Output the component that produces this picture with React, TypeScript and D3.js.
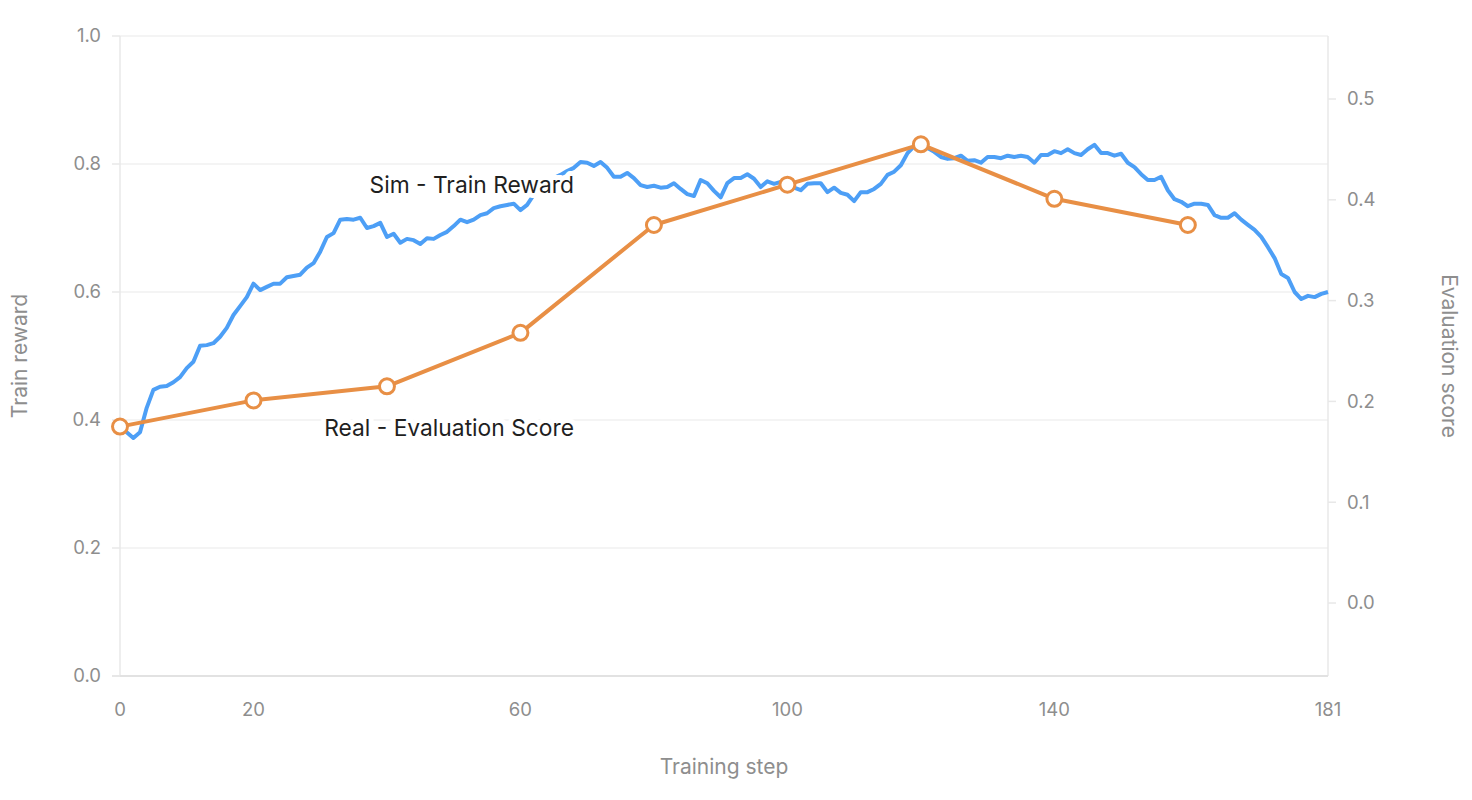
import React from 'react';
import * as d3 from 'd3';

// Sim train reward, one value per training step 0..181
const trainReward = [
  0.391, 0.381, 0.372, 0.381, 0.419, 0.447, 0.452, 0.453, 0.459, 0.467,
  0.481, 0.491, 0.516, 0.517, 0.520, 0.530, 0.544, 0.564, 0.578, 0.592,
  0.613, 0.603, 0.608, 0.613, 0.613, 0.623, 0.625, 0.627, 0.638, 0.645,
  0.663, 0.686, 0.692, 0.713, 0.714, 0.713, 0.716, 0.700, 0.703, 0.708,
  0.686, 0.691, 0.677, 0.683, 0.681, 0.675, 0.684, 0.683, 0.689, 0.694,
  0.703, 0.713, 0.709, 0.713, 0.720, 0.723, 0.731, 0.734, 0.736, 0.738,
  0.728, 0.736, 0.752, 0.763, 0.770, 0.778, 0.783, 0.789, 0.794, 0.803,
  0.802, 0.797, 0.803, 0.794, 0.780, 0.780, 0.786, 0.778, 0.767, 0.764,
  0.766, 0.763, 0.764, 0.770, 0.761, 0.753, 0.750, 0.775, 0.770, 0.758,
  0.748, 0.770, 0.778, 0.778, 0.784, 0.777, 0.764, 0.773, 0.769, 0.772,
  0.769, 0.763, 0.759, 0.769, 0.770, 0.770, 0.756, 0.763, 0.755, 0.752,
  0.742, 0.756, 0.756, 0.761, 0.769, 0.783, 0.788, 0.798, 0.817, 0.828,
  0.833, 0.825, 0.819, 0.811, 0.808, 0.809, 0.813, 0.805, 0.806, 0.802,
  0.811, 0.811, 0.809, 0.813, 0.811, 0.813, 0.811, 0.802, 0.814, 0.814,
  0.820, 0.817, 0.823, 0.817, 0.814, 0.823, 0.830, 0.817, 0.817, 0.813,
  0.816, 0.802, 0.795, 0.784, 0.775, 0.775, 0.780, 0.759, 0.745, 0.741,
  0.734, 0.738, 0.738, 0.736, 0.720, 0.716, 0.716, 0.723, 0.713, 0.705,
  0.697, 0.686, 0.670, 0.653, 0.628, 0.622, 0.600, 0.589, 0.594, 0.592,
  0.597, 0.600,
];

// Real evaluation score
const evalSteps = [0, 20, 40, 60, 80, 100, 120, 140, 160];
const evalScores = [0.175, 0.201, 0.215, 0.268, 0.375, 0.415, 0.455, 0.401, 0.375];

const xTicks = [0, 20, 60, 100, 140, 181];
const leftTicks = [0, 0.2, 0.4, 0.6, 0.8, 1.0];
const rightTicks = [0, 0.1, 0.2, 0.3, 0.4, 0.5];

const W = 1472;
const H = 800;
const FONT = "Inter, 'Noto Sans', sans-serif";
const BLUE = '#4d9ff6';
const ORANGE = '#e88f45';
const TICK_COLOR = '#8e8e8e';

export default function App() {
  const x = d3.scaleLinear().domain([0, 181]).range([120, 1328]);
  const yL = d3.scaleLinear().domain([0, 1]).range([676, 36]);
  const yR = d3.scaleLinear().domain([-0.0724, 0.5625]).range([676, 36]);

  const rewardLine = d3
    .line<number>()
    .x((_, i) => x(i))
    .y((d) => yL(d))(trainReward) as string;

  const evalPts = evalSteps.map((s, i) => [s, evalScores[i]] as [number, number]);
  const evalLine = d3
    .line<[number, number]>()
    .x((d) => x(d[0]))
    .y((d) => yR(d[1]))(evalPts) as string;

  return (
    <svg
      width={W}
      height={H}
      style={{ position: 'absolute', left: 0, top: 0, background: '#fff', fontFamily: FONT }}
    >
      {/* grid */}
      {leftTicks.slice(1).map((t) => (
        <line key={'g' + t} x1={x(0)} x2={x(181)} y1={yL(t)} y2={yL(t)} stroke="#f1f1f1" strokeWidth={1.5} />
      ))}

      {/* axes lines */}
      <line x1={x(0)} x2={x(0)} y1={yL(1)} y2={yL(0)} stroke="#e8e8e8" strokeWidth={1.5} />
      <line x1={x(181)} x2={x(181)} y1={yL(1)} y2={yL(0)} stroke="#e8e8e8" strokeWidth={1.5} />
      <line x1={x(0) - 8} x2={x(181)} y1={yL(0)} y2={yL(0)} stroke="#e2e2e2" strokeWidth={2} />

      {/* left ticks */}
      {leftTicks.map((t) => (
        <g key={'l' + t}>
          <line x1={x(0) - 8} x2={x(0)} y1={yL(t)} y2={yL(t)} stroke="#e8e8e8" strokeWidth={1.5} />
          <text x={101} y={yL(t)} dy="0.35em" textAnchor="end" fontSize={18.5} fill={TICK_COLOR}>
            {d3.format('.1f')(t)}
          </text>
        </g>
      ))}

      {/* right ticks */}
      {rightTicks.map((t) => (
        <g key={'r' + t}>
          <line x1={x(181)} x2={x(181) + 8} y1={yR(t)} y2={yR(t)} stroke="#e8e8e8" strokeWidth={1.5} />
          <text x={1347} y={yR(t)} dy="0.35em" textAnchor="start" fontSize={18.5} fill={TICK_COLOR}>
            {d3.format('.1f')(t)}
          </text>
        </g>
      ))}

      {/* x ticks */}
      {xTicks.map((t) => (
        <text key={'x' + t} x={x(t)} y={716} textAnchor="middle" fontSize={18.5} fill={TICK_COLOR}>
          {t}
        </text>
      ))}

      {/* axis titles */}
      <text x={724} y={774} textAnchor="middle" fontSize={21} fill={TICK_COLOR}>
        Training step
      </text>
      <text transform="translate(27,356) rotate(-90)" textAnchor="middle" fontSize={21} fill={TICK_COLOR}>
        Train reward
      </text>
      <text transform="translate(1442,356) rotate(90)" textAnchor="middle" fontSize={21} fill={TICK_COLOR}>
        Evaluation score
      </text>

      {/* train reward line */}
      <path d={rewardLine} fill="none" stroke={BLUE} strokeWidth={4} strokeLinejoin="round" />

      {/* series labels */}
      <text
        x={574}
        y={193}
        textAnchor="end"
        fontSize={22.8}
        fill="#1f1f1f"
        stroke="#fff"
        strokeWidth={10}
        strokeLinejoin="round"
        style={{ paintOrder: 'stroke' }}
      >
        Sim - Train Reward
      </text>
      <text
        x={574}
        y={436}
        textAnchor="end"
        fontSize={22.8}
        fill="#1f1f1f"
        stroke="#fff"
        strokeWidth={10}
        strokeLinejoin="round"
        style={{ paintOrder: 'stroke' }}
      >
        Real - Evaluation Score
      </text>

      {/* evaluation line + markers */}
      <path d={evalLine} fill="none" stroke={ORANGE} strokeWidth={4} strokeLinejoin="round" />
      {evalPts.map((d) => (
        <circle key={'c' + d[0]} cx={x(d[0])} cy={yR(d[1])} r={7.5} fill="#fff" stroke={ORANGE} strokeWidth={3} />
      ))}
    </svg>
  );
}
